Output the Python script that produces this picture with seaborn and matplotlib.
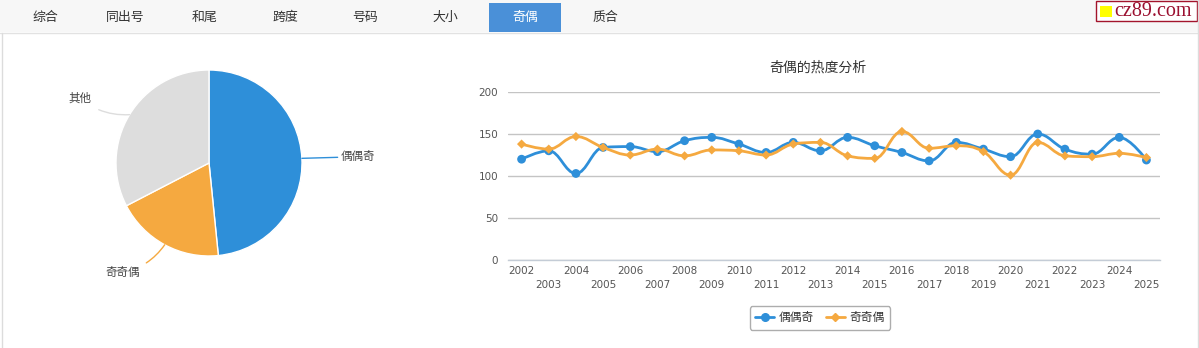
import numpy as np
import pandas as pd
import matplotlib
matplotlib.use('Agg')
import matplotlib.pyplot as plt
import seaborn as sns
from matplotlib.path import Path
from matplotlib.patches import PathPatch, Rectangle
from matplotlib.lines import Line2D

# ---------------- data ----------------
tabs = ['综合', '同出号', '和尾', '跨度', '号码', '大小', '奇偶', '质合']
active_tab = '奇偶'

pie_labels = ['偶偶奇', '奇奇偶', '其他']
pie_values = [48.4, 19.0, 32.6]

years = list(range(2002, 2026))
series_names = ['偶偶奇', '奇奇偶']
oeo = [120, 130, 103, 134, 135, 129, 142, 146, 138, 128, 140, 130,
       146, 136, 128, 118, 140, 132, 123, 150, 132, 126, 146, 119]
ooe = [138, 132, 147, 134, 125, 132, 124, 131, 130, 125, 138, 140,
       124, 121, 153, 133, 136, 129, 101, 140, 124, 123, 127, 122]
y_ticks = [0, 50, 100, 150, 200]
chart_title = '奇偶的热度分析'

# ---------------- style ----------------
sns.set_style('white')
plt.rcParams['font.family'] = ['DejaVu Sans', 'Noto Sans CJK SC']

BLUE = '#2e8fd9'
ORANGE = '#f5a940'
GRAY = '#dddddd'
AXIS = '#c4ccd6'

W, H = 1199, 348
fig = plt.figure(figsize=(W / 100, H / 100), dpi=100)
fig.patch.set_facecolor('white')


def fx(x):
    return x / W


def fy(y):
    return 1 - y / H


# ---------------- top tab bar ----------------
fig.patches.append(Rectangle((0, fy(32)), 1, 32 / H, transform=fig.transFigure,
                             facecolor='#f7f7f7', edgecolor='none', zorder=0))
fig.lines.append(Line2D([0, 1], [fy(32.5)] * 2, transform=fig.transFigure,
                        color='#e2e2e2', lw=1))
fig.lines.append(Line2D([fx(1.5)] * 2, [fy(33), 0], transform=fig.transFigure,
                        color='#dcdcdc', lw=1))
fig.lines.append(Line2D([fx(1197.5)] * 2, [fy(0), 0], transform=fig.transFigure,
                        color='#dcdcdc', lw=1))
for i, t in enumerate(tabs):
    cx = 45 + 80 * i
    if t == active_tab:
        fig.patches.append(Rectangle((fx(cx - 36), fy(32)), 72 / W, 29 / H,
                                     transform=fig.transFigure,
                                     facecolor='#4a90d8', edgecolor='none', zorder=1))
        color = 'white'
    else:
        color = '#333333'
    fig.text(fx(cx), fy(17), t, ha='center', va='center', fontsize=9.3,
             color=color, zorder=2, family=['Noto Sans CJK SC'])

# logo
fig.patches.append(Rectangle((fx(1096), fy(21)), 101 / W, 20 / H, transform=fig.transFigure,
                             facecolor='white', edgecolor='#a3142c', lw=1, zorder=1))
fig.patches.append(Rectangle((fx(1100), fy(17)), 12 / W, 11 / H, transform=fig.transFigure,
                             facecolor='#ffff00', edgecolor='none', zorder=2))
fig.text(fx(1114), fy(11.5), 'cz89.com', ha='left', va='center', fontsize=14.5,
         color='#9b1030', family=['Liberation Serif'], zorder=3)

# ---------------- pie ----------------
R = 93.0
half = 1.6 * R
ax_pie = fig.add_axes([fx(209 - half), fy(163 + half), 2 * half / W, 2 * half / H])
wedges, _ = ax_pie.pie(pie_values, colors=[BLUE, ORANGE, GRAY], startangle=90,
                       counterclock=False, radius=1.0,
                       wedgeprops=dict(edgecolor='white', linewidth=1))
ax_pie.set_xlim(-1.6, 1.6)
ax_pie.set_ylim(-1.6, 1.6)
ax_pie.set_aspect('equal')
ax_pie.axis('off')
for w, lab in zip(wedges, pie_labels):
    ang = np.deg2rad((w.theta1 + w.theta2) / 2)
    c, s = np.cos(ang), np.sin(ang)
    ex, ey = c * 1.0, s * 1.0
    right = c >= 0
    if right:
        tx, ty = c * 1.34 + 0.08, s * 1.34
    else:
        tx, ty = c * 1.36 - 0.1, s * 1.34
    ax_pie.annotate(lab, xy=(ex, ey), xytext=(tx, ty),
                    ha='left' if right else 'right', va='center',
                    fontsize=8.3, color='#444444', family=['Noto Sans CJK SC'],
                    arrowprops=dict(arrowstyle='-', color=w.get_facecolor(), lw=1,
                                    shrinkA=3 if not right else 0, shrinkB=0,
                                    connectionstyle='arc3,rad=0.2' if not right else 'arc3,rad=0'))


# ---------------- spline line chart ----------------
def spline_path(xs, ys):
    n = len(xs)
    lc = [(xs[i], ys[i]) for i in range(n)]
    rc = [(xs[i], ys[i]) for i in range(n)]
    for i in range(1, n - 1):
        px, py = xs[i], ys[i]
        lx, ly = xs[i - 1], ys[i - 1]
        nx, ny = xs[i + 1], ys[i + 1]
        lcx = (1.5 * px + lx) / 2.5
        lcy = (1.5 * py + ly) / 2.5
        rcx = (1.5 * px + nx) / 2.5
        rcy = (1.5 * py + ny) / 2.5
        corr = ((rcy - lcy) * (rcx - px)) / (rcx - lcx) + py - rcy
        lcy += corr
        rcy += corr
        if lcy > ly and lcy > py:
            lcy = max(ly, py)
            rcy = 2 * py - lcy
        elif lcy < ly and lcy < py:
            lcy = min(ly, py)
            rcy = 2 * py - lcy
        if rcy > ny and rcy > py:
            rcy = max(ny, py)
            lcy = 2 * py - rcy
        elif rcy < ny and rcy < py:
            rcy = min(ny, py)
            lcy = 2 * py - rcy
        lc[i] = (lcx, lcy)
        rc[i] = (rcx, rcy)
    verts = [(xs[0], ys[0])]
    codes = [Path.MOVETO]
    for i in range(1, n):
        verts += [rc[i - 1], lc[i], (xs[i], ys[i])]
        codes += [Path.CURVE4] * 3
    return Path(verts, codes)


ax = fig.add_axes([fx(508), fy(260), 652 / W, 168 / H])
df = pd.DataFrame({'year': years * 2,
                   'value': oeo + ooe,
                   'series': [series_names[0]] * len(years) + [series_names[1]] * len(years)})

styles = {series_names[0]: (BLUE, 'o', 40), series_names[1]: (ORANGE, 'D', 22)}
z = 3
for name in series_names:
    col, mk, sz = styles[name]
    sub = df[df['series'] == name]
    ax.add_patch(PathPatch(spline_path(sub['year'].tolist(), sub['value'].tolist()),
                           facecolor='none', edgecolor=col, lw=2, zorder=z,
                           transform=ax.transData))
    sns.scatterplot(data=sub, x='year', y='value', color=col, marker=mk, s=sz,
                    edgecolor='none', ax=ax, zorder=z + 1, legend=False)
    z += 2

ax.set_xlim(years[0] - 0.5, years[-1] + 0.5)
ax.set_ylim(y_ticks[0], y_ticks[-1])
ax.set_yticks(y_ticks)
ax.set_yticklabels([str(v) for v in y_ticks])
ax.set_xlabel('')
ax.set_ylabel('')
ax.grid(axis='y', color='#c4c4c4', lw=1)
ax.grid(axis='x', visible=False)
ax.set_axisbelow(True)
for sp in ['top', 'right', 'left']:
    ax.spines[sp].set_visible(False)
ax.spines['bottom'].set_color(AXIS)
ax.spines['bottom'].set_linewidth(1)
ax.set_xticks(years)
ax.set_xticklabels([str(y) if i % 2 == 0 else '\n' + str(y) for i, y in enumerate(years)])
ax.set_xticks([y - 0.5 for y in years] + [years[-1] + 0.5], minor=True)
ax.tick_params(axis='x', which='major', length=0, pad=4, labelsize=7.5, labelcolor='#555555')
ax.tick_params(axis='x', which='minor', length=5, width=1, color=AXIS, direction='out')
ax.tick_params(axis='y', length=0, pad=7, labelsize=7.5, labelcolor='#555555')
for lbl in ax.get_xticklabels():
    lbl.set_linespacing(1.55)

fig.text(fx(818), fy(68), chart_title, ha='center', va='center', fontsize=10,
         color='#333333', family=['Noto Sans CJK SC'])

handles = [Line2D([], [], color=BLUE, lw=2, marker='o', markersize=5.5),
           Line2D([], [], color=ORANGE, lw=2, marker='D', markersize=4)]
leg = fig.legend(handles, series_names, loc='center', bbox_to_anchor=(fx(820), fy(318)),
                 ncol=2, frameon=True, fancybox=True,
                 handlelength=1.6, handletextpad=0.4, columnspacing=1.0,
                 borderpad=0.45, prop={'family': ['Noto Sans CJK SC'], 'size': 8.5})
leg.get_frame().set_edgecolor('#999999')
leg.get_frame().set_linewidth(1)
for t in leg.get_texts():
    t.set_color('#333333')

fig.savefig('out.png', dpi=100, facecolor='white')
